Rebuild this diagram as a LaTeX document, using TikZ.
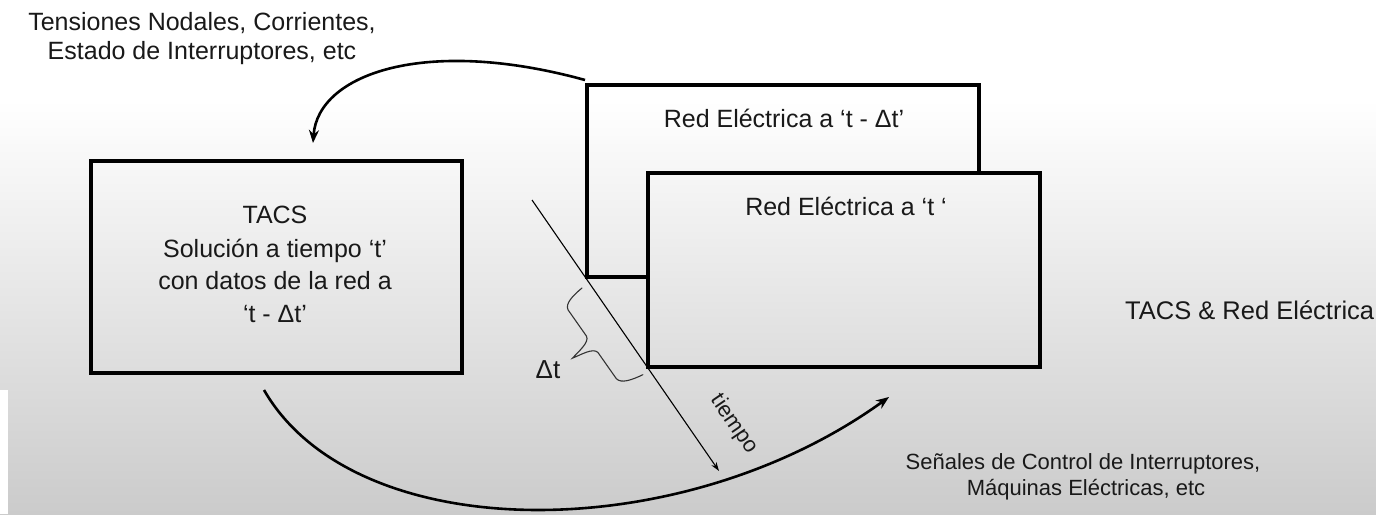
\documentclass[tikz,border=0pt]{standalone}
\usepackage{fontspec}
\setmainfont{Liberation Sans}
\usetikzlibrary{arrows.meta,calc}
\definecolor{bgbot}{RGB}{203,203,203}
\definecolor{ftop}{RGB}{246,246,246}
\definecolor{fbot}{RGB}{221,221,221}
\definecolor{txt}{RGB}{25,25,25}
\begin{document}
\begin{tikzpicture}[x=1pt,y=-1pt,
  box/.style={draw=black, line width=4pt, rectangle, inner sep=0pt},
  big/.style={font=\fontsize{25}{30}\selectfont, text=txt, inner sep=0pt, anchor=base},
  mid/.style={font=\fontsize{25}{29}\selectfont, text=txt, inner sep=0pt, anchor=base},
  small/.style={font=\fontsize{22}{26}\selectfont, text=txt, inner sep=0pt, anchor=base},
  flow/.style={line width=2.6pt, -{Stealth[length=13pt,width=10pt]}},
  timeline/.style={line width=1.1pt, -{Stealth[length=9pt,width=6pt]}},
  bracepath/.style={line width=1.1pt, draw=black!80, line cap=round}
]
% background
\useasboundingbox (0,0) rectangle (1376,514);
\fill[white] (0,0) rectangle (1376,101);
\shade[top color=white, bottom color=bgbot] (0,100) rectangle (1376,514);
\fill[white] (0,390) rectangle (8,514);

% boxes
\node[box, minimum width=371pt, minimum height=212pt] (tacs) at (276.5,267) {};
\node[box, minimum width=392pt, minimum height=192pt] (back) at (783,181) {};
\node[box, minimum width=392pt, minimum height=194pt, top color=ftop, bottom color=fbot] (front) at (844,270) {};

% texts
\node[mid] (ta) at (202,30) {Tensiones Nodales, Corrientes,};
\node[mid] (tb) at (202,59) {Estado de Interruptores, etc};

\node[big] (x1) at (275,223) {TACS};
\node[big] (x2) at (275,257) {Solución a tiempo ‘t’};
\node[big] (x3) at (275,289) {con datos de la red a};
\node[big] (x4) at (275,322) {‘t - Δt’};

\node[big] (r1) at (784,127) {Red Eléctrica a ‘t - Δt’};
\node[big] (r2) at (846,215) {Red Eléctrica a ‘t ‘};

\node[big, font=\fontsize{25.5}{30}\selectfont, anchor=base west] (tr) at (1125,319) {TACS \& Red Eléctrica};

\node[small] (sa) at (1083,469) {Señales de Control de Interruptores,};
\node[small] (sb) at (1086,495) {Máquinas Eléctricas, etc};

\node[small, font=\fontsize{26}{30}\selectfont] (dt) at (548,378) {Δt};
\node[small, anchor=center, rotate=-55.6] (tiempo) at (734,424) {tiempo};

% connectors
\coordinate (a1) at (585,80);
\coordinate (a2) at (313,143);
\draw[flow] (a1) .. controls (425,36) and (318,74) .. (a2);

\coordinate (b1) at (264,390);
\coordinate (b2) at (889,397);
\draw[flow] (b1) .. controls (355,548) and (680,548) .. (b2);

\coordinate (t1) at (532,200);
\coordinate (t2) at (719,471);
\draw[timeline] (t1) -- (t2);

% brace
\begin{scope}[shift={(582,288)}, x={(0.574pt,-0.818pt)}, y={(-0.818pt,-0.574pt)}]
\draw[bracepath] (0,0) .. controls (1,12) and (3,23) .. (10,24) -- (42,24)
  .. controls (49,25) and (50,40) .. (52,48)
  .. controls (54,40) and (55,25) .. (62,24) -- (94,24)
  .. controls (101,23) and (104,12) .. (106,0);
\end{scope}
\end{tikzpicture}
\end{document}
